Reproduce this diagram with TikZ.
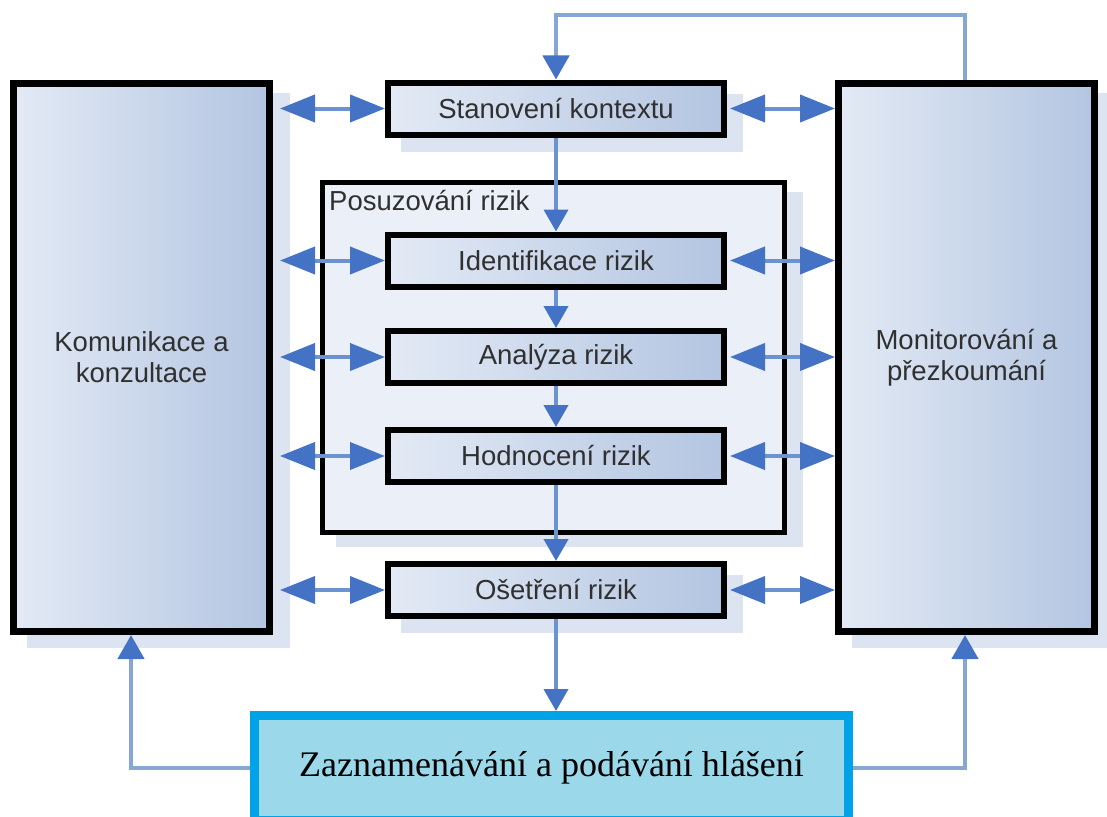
\documentclass[tikz,border=0pt]{standalone}
\usepackage{fontspec}
\setmainfont{Liberation Sans}
\newfontfamily\serifrm{Liberation Serif}
\usetikzlibrary{arrows.meta,backgrounds,calc}
\definecolor{boxL}{HTML}{E3EAF5}
\definecolor{boxR}{HTML}{B3C5E1}
\definecolor{shadowc}{HTML}{DCE4F2}
\definecolor{contc}{HTML}{EBEFF7}
\definecolor{arrowc}{HTML}{4472C4}
\definecolor{linec}{HTML}{6B93CF}
\definecolor{fbc}{HTML}{86A6D6}
\definecolor{repborder}{HTML}{00A3E8}
\definecolor{repfill}{HTML}{9AD8EA}
\definecolor{txtc}{HTML}{303030}
\tikzset{
  bigbox/.style={draw=black, line width=7pt, left color=boxL, right color=boxR,
    minimum width=256pt, minimum height=548pt, inner sep=0pt, align=center,
    text=txtc, font=\fontsize{27.5}{31}\selectfont},
  stepbox/.style={draw=black, line width=6pt, left color=boxL, right color=boxR,
    minimum width=336pt, minimum height=52pt, inner sep=0pt,
    text=txtc, font=\fontsize{27.5}{31}\selectfont},
  contbox/.style={draw=black, line width=5pt, fill=contc,
    minimum width=462pt, minimum height=350pt, inner sep=0pt},
  repbox/.style={draw=repborder, line width=9pt, fill=repfill,
    minimum width=594pt, minimum height=105pt, inner sep=0pt,
    font=\serifrm\fontsize{36}{40}\selectfont, text=black},
  darr/.style={draw=linec, line width=4pt,
    {Triangle[length=35pt,width=27pt,color=arrowc]}-{Triangle[length=35pt,width=27pt,color=arrowc]}},
  varr/.style={draw=linec, line width=4pt, -{Triangle[length=22pt,width=24pt,color=arrowc]}},
  fbarr/.style={draw=fbc, line width=4.5pt, -{Triangle[length=24pt,width=26pt,color=arrowc]}},
}
\begin{document}
\begin{tikzpicture}[x=1pt,y=-1pt]
\useasboundingbox (0,0) rectangle (1107,816);
\path[clip] (0,0) rectangle (1107,816);
% big boxes
\node[bigbox] (kom) at (141.5,357.5) {Komunikace a\\konzultace};
\node[bigbox] (mon) at (966.5,357.5) {Monitorování a\\přezkoumání};
% container
\node[contbox] (cont) at (553.5,357.5) {};
\node[anchor=west, text=txtc, font=\fontsize{27.5}{31}\selectfont, inner sep=0pt] (contlab) at (329,201) {Posuzování rizik};
% steps
\node[stepbox] (ctx) at (556,108.5) {Stanovení kontextu};
\node[stepbox] (idf) at (556,260.5) {Identifikace rizik};
\node[stepbox] (ana) at (556,357) {Analýza rizik};
\node[stepbox] (hod) at (556,456) {Hodnocení rizik};
\node[stepbox] (ose) at (556,590) {Ošetření rizik};
% report box
\node[repbox] (rep) at (551.5,768) {\raisebox{4pt}{Zaznamenávání a podávání hlášení}};
% shadows
\begin{scope}[on background layer]
  \foreach \n/\dx/\dy in {kom/17/13, mon/17/13, cont/16/12, ctx/16/14, idf/16/14, ana/16/14, hod/16/14, ose/16/14}{
    \fill[shadowc] ([shift={(\dx,\dy)}]\n.north west) rectangle ([shift={(\dx,\dy)}]\n.south east);
  }
\end{scope}
% double arrows
\foreach \s in {ctx,idf,ana,hod,ose}{
  \draw[darr] ([xshift=7pt]kom.east |- \s.west) -- (\s.west);
  \draw[darr] ([xshift=3pt]\s.east) -- (mon.west |- \s.east);
}
% vertical flow
\draw[varr] (ctx.south) -- (idf.north);
\draw[varr] (idf.south) -- (ana.north);
\draw[varr] (ana.south) -- (hod.north);
\draw[varr] (hod.south) -- (ose.north);
\draw[varr] (ose.south) -- (ose.south |- rep.north);
% feedback top
\coordinate (topy) at (0,15);
\draw[fbarr] ([xshift=-1.5pt]mon.north) -- ([xshift=-1.5pt]mon.north |- topy) -- (ctx.north |- topy) -- (ctx.north);
% bottom returns
\draw[fbarr] (rep.west) -| ([xshift=-10.5pt]kom.south);
\draw[fbarr] (rep.east) -| ([xshift=-1.5pt]mon.south);
\end{tikzpicture}
\end{document}
